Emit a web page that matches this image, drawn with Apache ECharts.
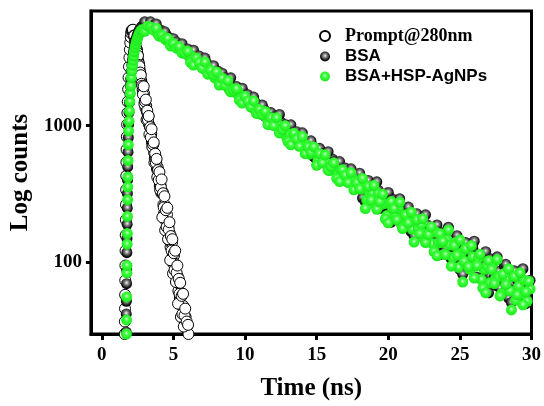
<!DOCTYPE html>
<html>
<head>
<meta charset="utf-8">
<script src="https://cdn.jsdelivr.net/npm/echarts@6/dist/echarts.min.js"></script>
<style>
  html, body { margin: 0; padding: 0; background: #fff; }
  #main { width: 544px; height: 406px; }
</style>
</head>
<body>
<div id="main"></div>
<script>
// x axis ticks (ns) and y axis ticks (counts)
var xTicks = [0, 5, 10, 15, 20, 25, 30];
var yTicks = [100, 1000];

// Prompt@280nm : rising edge (explicit), then decay channels every 0.05 ns (two interleaved reads)
var promptRiseTime = [1.60,1.61,1.62,1.63,1.64,1.65,1.66,1.67,1.68,1.69,1.70,1.71,1.72,1.73,1.75,1.77,1.79,1.81,1.84,1.87,1.90,1.93,1.96,1.99,2.02,2.05,2.08,2.11];
var promptRiseCounts = [30,37,46,58,74,95,122,158,205,265,340,430,540,670,830,1020,1240,1500,1850,2250,2700,3150,3600,4050,4450,4750,4950,5000];
var promptDecayStart = 2.15, promptMidStart = 2.175, promptStep = 0.05;
var promptDecayCounts = [
  5005,4765,4642,4444,4041,3726,3598,3280,2984,2842,
  2560,2390,2149,2038,1832,1765,1721,1492,1346,1397,
  1264,1134,1168,1020,989,856,872,755,752,734,
  636,573,595,538,483,497,435,422,364,372,
  322,325,328,265,229,264,231,199,224,183,
  183,146,163,130,138,140,112,98,113,98,
  84,95,78,79,62,70,55,58,60,48,
  41,48,41,36,40,33,34,27,30
];
var promptMidCounts = [
  5035,4562,4547,4150,4093,3585,3422,3245,2785,2719,
  2449,2342,2025,1961,1694,1941,1438,1502,1552,1103,
  1288,1104,1178,863,977,823,943,699,730,755,
  536,625,536,572,420,474,400,458,339,354,
  405,214,321,253,305,172,241,182,251,148,
  174,197,104,156,122,148,83,117,88,122,
  72,84,95,50,76,59,71,40,57,42,
  59,34,41,46,25,37,29,35
];

// BSA : rise, then decay channels every 0.2 ns starting 2.9 and 3.0
var bsaRiseTime = [1.70,1.71,1.72,1.73,1.74,1.75,1.76,1.77,1.78,1.79,1.80,1.81,1.83,1.85,1.87,1.90,1.93,1.96,1.99,2.02,2.06,2.10,2.14,2.18,2.22,2.27,2.32,2.38,2.44,2.50,2.57,2.64,2.72,2.80];
var bsaRiseCounts = [31,42,52,70,88,118,150,190,250,320,400,500,640,820,1020,1250,1480,1720,1960,2200,2500,2780,3030,3280,3500,3760,4000,4250,4480,4680,4880,5050,5200,5320];
var decayStart = 2.9, midStart = 3.0, decayStep = 0.2;
var bsaDecayCounts = [
  5395,5458,5653,5438,5409,5126,5011,4679,4611,4390,
  4299,4026,3952,3849,3636,3627,3411,3341,3068,3188,
  3040,2828,2888,2579,2613,2462,2511,2249,2272,2128,
  2120,1905,1900,1861,1703,1759,1610,1570,1435,1485,
  1409,1306,1331,1186,1199,1128,1188,1009,1063,976,
  1002,856,882,877,774,847,749,740,650,715,
  673,608,649,547,576,534,570,485,512,471,
  485,416,428,427,378,414,363,366,300,365,
  339,293,338,256,292,262,301,234,265,237,
  255,200,218,223,184,223,187,188,155,189,
  175,152,176,134,152,137,170,117,145,124,
  142,99,117,122,92,127,98,103,76,108,
  98,80,103,68,86,75,95,66,83,71,
  82,56,67,71,54,74
];
var bsaMidCounts = [
  5761,5323,5756,5443,5553,4899,4869,4857,4342,4163,
  4327,4100,3843,3978,3531,3641,3381,3563,2868,3233,
  2885,3125,2598,2663,2747,2276,2165,2424,2244,2031,
  2239,1819,1937,1791,1879,1506,1688,1501,1621,1344,
  1376,1416,1170,1113,1247,1165,1025,1209,907,1020,
  927,1015,743,905,775,888,686,727,775,594,
  563,683,623,548,646,484,547,497,547,401,
  490,420,484,373,396,450,296,277,398,351,
  291,389,248,313,274,325,197,287,228,293,
  196,224,254,168,157,227,200,167,223,143,
  180,158,188,114,165,128,181,106,130,157,
  89,82,140,120,94,143,78,109,94,120,
  60,106,78,110,65,80,97,55,51,87,
  75,59,90,50,71
];

// BSA+HSP-AgNPs
var greenRiseTime = [1.72,1.73,1.74,1.75,1.76,1.77,1.78,1.79,1.80,1.81,1.82,1.83,1.85,1.87,1.90,1.93,1.96,1.99,2.02,2.06,2.10,2.14,2.18,2.22,2.27,2.32,2.38,2.44,2.50,2.57,2.64,2.72,2.80];
var greenRiseCounts = [30,38,56,84,95,136,163,217,287,356,421,557,726,916,1080,1280,1500,1720,1950,2250,2520,2760,3000,3230,3480,3720,3950,4180,4380,4580,4760,4920,5040];
var greenDecayCounts = [
  5052,5080,5294,5155,5045,4724,4647,4453,4223,4177,
  3892,3838,3671,3639,3406,3363,3203,3206,2895,2901,
  2853,2619,2712,2489,2432,2228,2307,2189,2030,2070,
  1843,1864,1752,1785,1599,1616,1512,1507,1354,1351,
  1322,1210,1250,1145,1115,1020,1077,1015,917,979,
  823,869,804,858,729,768,705,724,619,637,
  634,559,611,541,534,470,517,487,442,472,
  398,422,390,418,356,375,344,370,289,315,
  321,265,320,266,269,220,268,249,216,249,
  190,216,195,225,175,198,176,190,149,163,
  166,137,167,139,140,115,147,134,109,140,
  92,117,102,128,89,110,94,108,75,89,
  94,71,98,76,79,59,83,76,62,80,
  53,67,59,74,52,64
];
var greenMidCounts = [
  4898,5344,5252,5015,5166,4513,4576,4323,4356,3834,
  3987,3702,3794,3403,3388,3502,2909,2780,3128,2908,
  2644,2921,2380,2540,2353,2474,1983,2224,1976,2135,
  1771,1811,1864,1541,1466,1642,1519,1375,1515,1231,
  1312,1213,1272,1019,1143,1000,1145,885,938,999,
  766,726,882,803,707,833,625,703,639,700,
  513,625,535,613,473,501,535,412,391,476,
  435,383,453,340,384,346,412,248,360,286,
  366,245,279,316,208,195,279,248,205,276,
  177,223,195,233,141,205,163,209,140,160,
  182,120,112,162,143,114,173,94,133,113,
  146,72,126,93,133,77,95,115,65,60,
  103,89,70,105,57,82,69,90,45,79,
  58,84,49,61,73
];

// [t, counts] points : explicit rise points plus evenly spaced channels
function buildPoints(riseT, riseC, grids) {
  var pts = [];
  for (var i = 0; i < riseT.length; i++) pts.push([riseT[i], riseC[i]]);
  grids.forEach(function (g) {
    for (var j = 0; j < g.counts.length; j++) {
      pts.push([+(g.start + j * g.step).toFixed(3), g.counts[j]]);
    }
  });
  return pts;
}

var serif = 'Liberation Serif, Times New Roman, serif';
var sans = 'Liberation Sans, Arial, sans-serif';

var blackBall = {
  type: 'radial', x: 0.5, y: 0.42, r: 0.6,
  colorStops: [{offset: 0, color: '#f4f4f4'}, {offset: 0.3, color: '#8a8a8a'}, {offset: 0.75, color: '#111'}, {offset: 1, color: '#000'}]
};
var greenBall = {
  type: 'radial', x: 0.5, y: 0.42, r: 0.6,
  colorStops: [{offset: 0, color: '#d0ffd0'}, {offset: 0.35, color: '#3dff3d'}, {offset: 1, color: '#14e614'}]
};

var myChart = echarts.init(document.getElementById('main'));
var option = {
  animation: false,
  backgroundColor: '#fff',
  grid: {
    left: 89, right: 11, top: 11, bottom: 67,
    show: true, borderColor: '#000', borderWidth: 3
  },
  legend: {
    orient: 'vertical',
    left: 314, top: 22,
    itemWidth: 30, itemHeight: 10,
    itemGap: 3,
    textStyle: {
      color: '#000',
      rich: {
        s: {fontFamily: serif, fontWeight: 'bold', fontSize: 18, lineHeight: 18, color: '#000'},
        a: {fontFamily: sans, fontWeight: 'bold', fontSize: 17, lineHeight: 18, color: '#000'}
      }
    },
    formatter: function (name) {
      return name == 'Prompt@280nm' ? '{s|' + name + '}' : '{a|' + name + '}';
    }
  },
  xAxis: {
    type: 'value',
    min: -0.76, max: 30,
    name: 'Time (ns)',
    nameLocation: 'middle',
    nameGap: 42,
    nameTextStyle: {fontFamily: serif, fontWeight: 'bold', fontSize: 25, color: '#000'},
    axisLine: {show: true, onZero: false, lineStyle: {color: '#000', width: 3}},
    axisTick: {show: true, length: 6, lineStyle: {color: '#000', width: 3}, customValues: xTicks},
    axisLabel: {fontFamily: serif, fontWeight: 'bold', fontSize: 19, color: '#000', margin: 12, customValues: xTicks},
    splitLine: {show: false}
  },
  yAxis: {
    type: 'log',
    logBase: 10,
    min: 30, max: 6900,
    name: 'Log counts',
    nameLocation: 'middle',
    nameGap: 54,
    nameTextStyle: {fontFamily: serif, fontWeight: 'bold', fontSize: 25, color: '#000'},
    axisLine: {show: true, onZero: false, lineStyle: {color: '#000', width: 3}},
    axisTick: {show: true, length: 5, lineStyle: {color: '#000', width: 3}, customValues: yTicks},
    axisLabel: {
      fontFamily: serif, fontWeight: 'bold', fontSize: 19, color: '#000', margin: 9,
      customValues: yTicks,
      formatter: function (v) { return String(Math.round(v)); }
    },
    splitLine: {show: false}
  },
  series: [
    {
      name: 'Prompt@280nm',
      type: 'scatter',
      symbol: 'circle',
      symbolSize: 11,
      itemStyle: {color: '#fff', borderColor: '#000', borderWidth: 1, opacity: 1},
      data: buildPoints(promptRiseTime, promptRiseCounts, [
        {start: promptDecayStart, step: promptStep, counts: promptDecayCounts},
        {start: promptMidStart, step: promptStep, counts: promptMidCounts}
      ])
    },
    {
      name: 'BSA',
      type: 'scatter',
      symbol: 'circle',
      symbolSize: 11,
      itemStyle: {color: blackBall, opacity: 1},
      data: buildPoints(bsaRiseTime, bsaRiseCounts, [
        {start: decayStart, step: decayStep, counts: bsaDecayCounts},
        {start: midStart, step: decayStep, counts: bsaMidCounts}
      ])
    },
    {
      name: 'BSA+HSP-AgNPs',
      type: 'scatter',
      symbol: 'circle',
      symbolSize: 11,
      itemStyle: {color: greenBall, opacity: 1},
      data: buildPoints(greenRiseTime, greenRiseCounts, [
        {start: decayStart, step: decayStep, counts: greenDecayCounts},
        {start: midStart, step: decayStep, counts: greenMidCounts}
      ])
    }
  ]
};
myChart.setOption(option);
</script>
</body>
</html>
